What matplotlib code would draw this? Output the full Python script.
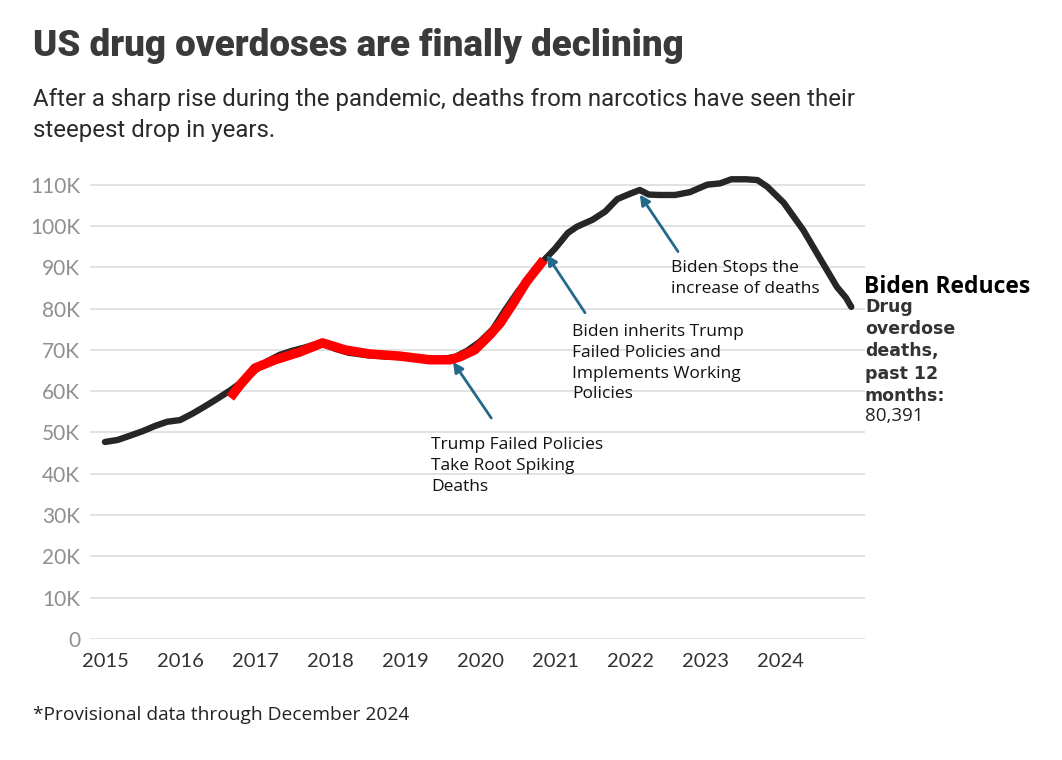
import matplotlib.pyplot as plt
from matplotlib.ticker import FuncFormatter

# overdose deaths, past 12 months (thousands)
years = [2015.00, 2015.17, 2015.33, 2015.50, 2015.67, 2015.83, 2016.00, 2016.17,
         2016.33, 2016.50, 2016.67, 2016.83, 2017.00, 2017.17, 2017.33, 2017.50,
         2017.67, 2017.83, 2017.92, 2018.08, 2018.25, 2018.50, 2018.75, 2019.00,
         2019.25, 2019.50, 2019.67, 2019.83, 2020.00, 2020.17, 2020.33, 2020.50,
         2020.67, 2020.83, 2021.00, 2021.17, 2021.29, 2021.50, 2021.67, 2021.83,
         2022.00, 2022.13, 2022.25, 2022.40, 2022.60, 2022.80, 2023.03, 2023.20,
         2023.35, 2023.55, 2023.70, 2023.83, 2024.05, 2024.31, 2024.57, 2024.76,
         2024.88, 2024.95]
deaths = [47.7, 48.2, 49.2, 50.3, 51.6, 52.6, 53.0, 54.6,
          56.3, 58.2, 60.2, 62.3, 65.0, 67.3, 68.8, 69.8,
          70.6, 71.5, 71.3, 70.2, 69.3, 68.7, 68.4, 68.2,
          67.8, 67.8, 68.3, 69.8, 72.0, 75.0, 79.5, 84.0,
          88.0, 91.3, 94.5, 98.3, 99.8, 101.5, 103.5, 106.5,
          107.8, 108.7, 107.6, 107.5, 107.5, 108.2, 110.0, 110.3,
          111.3, 111.3, 111.1, 109.5, 105.6, 99.0, 91.0, 85.2,
          82.6, 80.4]

# hand-drawn red overlay
red_years = [2016.67, 2016.80, 2017.00, 2017.27, 2017.60, 2017.90, 2018.20,
             2018.53, 2018.93, 2019.33, 2019.60, 2019.73, 2019.93, 2020.13,
             2020.27, 2020.45, 2020.62, 2020.85]
red_deaths = [58.4, 61.5, 65.6, 67.6, 69.5, 71.7, 70.0,
              69.0, 68.5, 67.6, 67.6, 68.3, 70.0, 73.6,
              76.5, 81.5, 86.5, 91.8]

ytick_vals = [0, 10, 20, 30, 40, 50, 60, 70, 80, 90, 100, 110]
xtick_years = list(range(2015, 2025))

W, H = 1062, 760


def px(x, y):
    return x / W, 1 - y / H


fig = plt.figure(figsize=(W / 100, H / 100), dpi=100)
ax = fig.add_axes([90 / W, (H - 639) / H, 775 / W, 475 / H])

ax.plot(years, deaths, color='#262626', lw=4.6, solid_capstyle='round', solid_joinstyle='round', zorder=3)
ax.plot(red_years, red_deaths, color='#ff0000', lw=6.8, solid_capstyle='butt', solid_joinstyle='round', zorder=4)

ax.set_xlim(2014.8, 2025.133)
ax.set_ylim(0, 115)
ax.set_yticks(ytick_vals)
ax.yaxis.set_major_formatter(FuncFormatter(lambda v, p: '0' if v == 0 else '%dK' % v))
ax.set_xticks(xtick_years)
ax.grid(axis='y', color='#dddddd', lw=1.2)
ax.set_axisbelow(True)
for s in ax.spines.values():
    s.set_visible(False)
ax.tick_params(length=0)
ax.tick_params(axis='y', pad=7, labelsize=15, labelcolor='#8f8f8f')
ax.tick_params(axis='x', pad=10, labelsize=14.5, labelcolor='#333333')
for lab in ax.get_yticklabels() + ax.get_xticklabels():
    lab.set_fontfamily('Lato')

arrow_c = '#24688a'
notes = [
    ('Trump Failed Policies\nTake Root Spiking\nDeaths', (2019.64, 67.1), (2020.15, 53.5), (431, 437)),
    ('Biden inherits Trump\nFailed Policies and\nImplements Working\nPolicies', (2020.89, 93.0), (2021.4, 79.0), (572, 324)),
    ('Biden Stops the\nincrease of deaths', (2022.13, 107.6), (2022.64, 93.8), (671, 260)),
]
for txt, tip, tail, pos in notes:
    ax.annotate('', xy=tip, xytext=tail,
                arrowprops=dict(arrowstyle='-|>,head_length=0.6,head_width=0.3', color=arrow_c, lw=2, shrinkA=0, shrinkB=0))
    fig.text(*px(*pos), txt, fontsize=12.5, family='Open Sans', color='#111111',
             va='top', ha='left', linespacing=1.4)

fig.text(*px(33, 28), 'US drug overdoses are finally declining', fontsize=26.5, fontweight='heavy',
         family='Roboto', color='#3a3a3a', va='top', ha='left')
fig.text(*px(33, 88), 'After a sharp rise during the pandemic, deaths from narcotics have seen their\nsteepest drop in years.',
         fontsize=17.3, family='Roboto', color='#2a2a2a', va='top', ha='left', linespacing=1.42)

fig.text(*px(864, 275), 'Biden Reduces', fontsize=16.5, fontweight='bold', family='Open Sans',
         color='#000000', va='top', ha='left')
fig.text(*px(865, 298), 'Drug\noverdose\ndeaths,\npast 12\nmonths:', fontsize=12.5, fontweight='bold',
         family='DejaVu Sans', color='#333333', va='top', ha='left', linespacing=1.3)
fig.text(*px(865, 407), '80,391', fontsize=13.5, family='Open Sans', color='#222222', va='top', ha='left')

fig.text(*px(33, 706), '*Provisional data through December 2024', fontsize=13.8, family='Open Sans',
         color='#222222', va='top', ha='left')


def main():
    plt.savefig('out.png', dpi=100)


if __name__ == "__main__":
    main()
